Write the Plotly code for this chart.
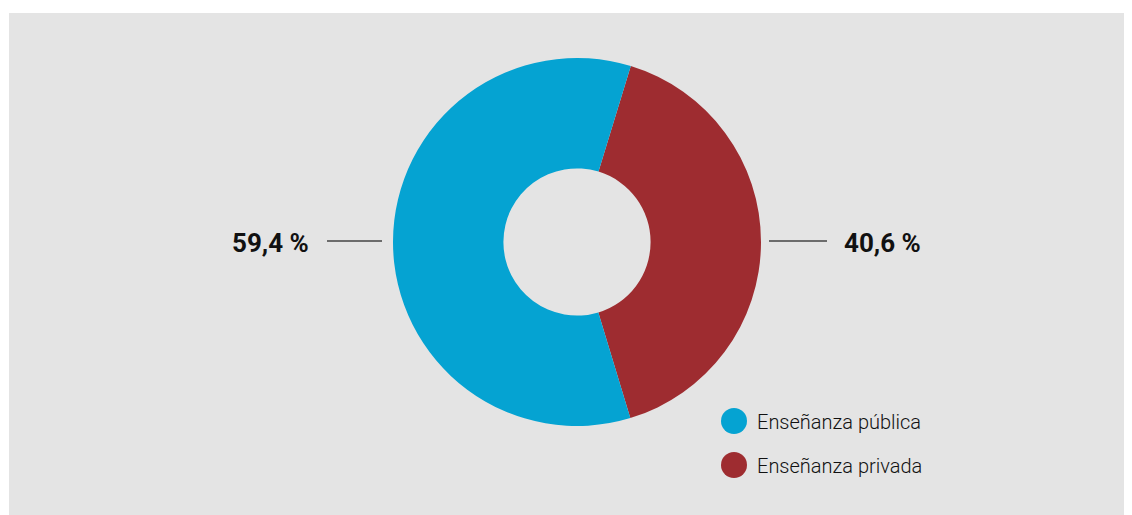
import plotly.graph_objects as go

W, H = 1132, 515
OX, OY = 8, 8  # page body margin offset

# Data
labels = ["Enseñanza privada", "Enseñanza pública"]
values = [40.6, 59.4]
colors = ["#9e2c30", "#05a3d2"]
legend_order = ["Enseñanza pública", "Enseñanza privada"]

BG = "#e4e4e4"
FONT = "Roboto, Liberation Sans, sans-serif"


def px(x):
    return (x - OX) / W


def py(y):
    return 1 - (y - OY) / H


def fmt(v):
    return f"{v:.1f}".replace(".", ",") + " %"


fig = go.Figure()
fig.add_trace(go.Pie(
    labels=labels,
    values=values,
    hole=0.4,
    sort=False,
    direction="clockwise",
    rotation=17,
    marker=dict(colors=colors, line=dict(width=0)),
    textinfo="none",
    hoverinfo="label+percent",
    showlegend=False,
    domain=dict(x=[px(393), px(761)], y=[py(426), py(58)]),
))

shapes = [
    dict(type="rect", xref="paper", yref="paper", x0=px(9), x1=1, y0=0, y1=py(13),
         fillcolor=BG, line=dict(width=0), layer="below"),
    dict(type="line", xref="paper", yref="paper", x0=px(327), x1=px(382), y0=py(241), y1=py(241),
         line=dict(color="#444444", width=1.5)),
    dict(type="line", xref="paper", yref="paper", x0=px(769), x1=px(827), y0=py(241), y1=py(241),
         line=dict(color="#444444", width=1.5)),
]

annotations = []
val = dict(zip(labels, values))
col = dict(zip(labels, colors))
annotations.append(dict(x=px(311), y=py(243), xref="paper", yref="paper", xanchor="right", yanchor="middle",
                        text=fmt(val["Enseñanza pública"]), showarrow=False,
                        font=dict(family=FONT, size=26, weight=700, color="#111111")))
annotations.append(dict(x=px(842), y=py(243), xref="paper", yref="paper", xanchor="left", yanchor="middle",
                        text=fmt(val["Enseñanza privada"]), showarrow=False,
                        font=dict(family=FONT, size=26, weight=700, color="#111111")))

for i, name in enumerate(legend_order):
    cy = 421 + i * 44
    shapes.append(dict(type="circle", xref="paper", yref="paper",
                       x0=px(721), x1=px(747), y0=py(cy + 13), y1=py(cy - 13),
                       fillcolor=col[name], line=dict(width=0)))
    annotations.append(dict(x=px(755), y=py(cy + 1), xref="paper", yref="paper",
                            xanchor="left", yanchor="middle", text=name, showarrow=False,
                            font=dict(family=FONT, size=20, weight=300, color="#111111")))

fig.update_layout(
    width=W, height=H,
    margin=dict(l=0, r=0, t=0, b=0),
    paper_bgcolor="white",
    plot_bgcolor=BG,
    shapes=shapes,
    annotations=annotations,
)

fig.write_html("out.html")
